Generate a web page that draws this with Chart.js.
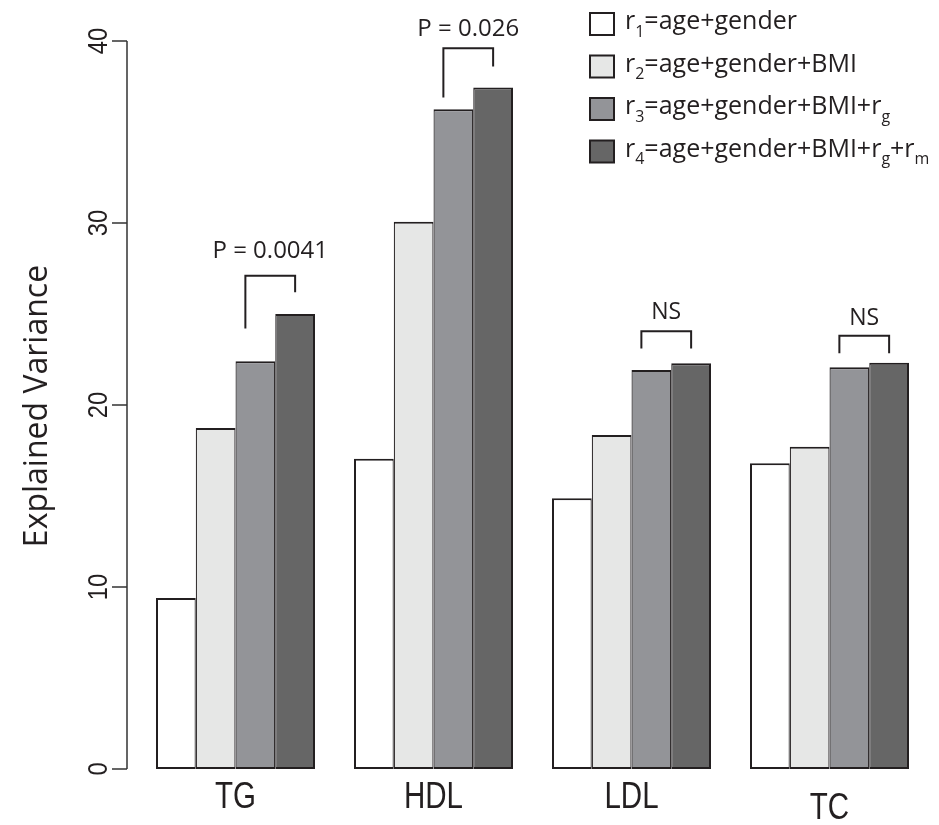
<!DOCTYPE html>
<html>
<head>
<meta charset="utf-8">
<script src="https://cdn.jsdelivr.net/npm/chart.js@4.4.0/dist/chart.umd.min.js"></script>
<style>
  html, body { margin: 0; padding: 0; background: #fff; }
  #wrap { width: 939px; height: 825px; }
</style>
</head>
<body>
<div id="wrap"><canvas id="chart" width="939" height="825"></canvas></div>
<script>
// ---- data ----
const categories = ["TG", "HDL", "LDL", "TC"];
const r1Values = [9.4, 17.05, 14.87, 16.8];
const r2Values = [18.74, 30.07, 18.35, 17.71];
const r3Values = [22.4, 36.25, 21.92, 22.07];
const r4Values = [25.0, 37.45, 22.29, 22.32];
const yTicks = [0, 10, 20, 30, 40];

// legend labels, split into [text, isSubscript] pieces
const seriesNames = [
  [["r", 0], ["1", 1], ["=age+gender", 0]],
  [["r", 0], ["2", 1], ["=age+gender+BMI", 0]],
  [["r", 0], ["3", 1], ["=age+gender+BMI+r", 0], ["g", 1]],
  [["r", 0], ["4", 1], ["=age+gender+BMI+r", 0], ["g", 1], ["+r", 0], ["m", 1]],
];
const seriesColors = ["#ffffff", "#e6e7e6", "#939498", "#666666"];

// significance brackets between r3 and r4 (values in axis units)
const pLabels = ["P = 0.0041", "P = 0.026", "NS", "NS"];
const pLabelY = [28.1, 40.3, 24.7, 24.4];
const bracketTop = [27.1, 39.6, 24.05, 23.8];
const bracketLeftEnd = [24.2, 36.9, 23.1, 22.85];
const bracketRightEnd = [26.2, 38.6, 23.1, 22.85];

const INK = "#231f20";

function drawRich(ctx, parts, x, y, size) {
  parts.forEach(([txt, sub]) => {
    ctx.font = (sub ? Math.round(size * 0.64) : size) + 'px "Open Sans"';
    ctx.fillText(txt, x, sub ? y + size * 0.3 : y);
    x += ctx.measureText(txt).width;
  });
}

const decorPlugin = {
  id: "decor",
  afterDatasetsDraw(chart) {
    const ctx = chart.ctx;
    const xs = chart.scales.x;
    const ys = chart.scales.y;
    const axisX = 127;

    ctx.save();
    ctx.strokeStyle = "#333";
    ctx.fillStyle = INK;
    ctx.lineWidth = 1.5;

    // y axis line + ticks
    ctx.beginPath();
    ctx.moveTo(axisX, ys.getPixelForValue(40));
    ctx.lineTo(axisX, ys.getPixelForValue(0));
    yTicks.forEach((t) => {
      const y = ys.getPixelForValue(t);
      ctx.moveTo(axisX - 15, y);
      ctx.lineTo(axisX, y);
    });
    ctx.stroke();

    // rotated tick labels
    yTicks.forEach((t) => {
      ctx.save();
      ctx.translate(107, ys.getPixelForValue(t));
      ctx.rotate(-Math.PI / 2);
      ctx.scale(0.88, 1);
      ctx.font = '27px "Liberation Sans"';
      ctx.textAlign = "center";
      ctx.textBaseline = "alphabetic";
      ctx.fillText(String(t), 0, 0);
      ctx.restore();
    });

    // y title
    ctx.save();
    ctx.translate(47, 406);
    ctx.rotate(-Math.PI / 2);
    ctx.font = '32px "Open Sans"';
    ctx.textAlign = "center";
    ctx.fillText("Explained Variance", 0, 0);
    ctx.restore();

    // category labels (condensed)
    categories.forEach((c, i) => {
      ctx.save();
      ctx.translate(xs.getPixelForValue(i), c === "TC" ? 819 : 808);
      ctx.scale(0.82, 1);
      ctx.font = '36px "Liberation Sans"';
      ctx.textAlign = "center";
      ctx.fillText(c, 0, 0);
      ctx.restore();
    });

    // brackets + p-values
    const m3 = chart.getDatasetMeta(2);
    const m4 = chart.getDatasetMeta(3);
    ctx.strokeStyle = INK;
    ctx.lineWidth = 2;
    categories.forEach((c, i) => {
      const xl = m3.data[i].x - 10;
      const xr = m4.data[i].x;
      const yt = ys.getPixelForValue(bracketTop[i]);
      ctx.beginPath();
      ctx.moveTo(xl, ys.getPixelForValue(bracketLeftEnd[i]));
      ctx.lineTo(xl, yt);
      ctx.lineTo(xr, yt);
      ctx.lineTo(xr, ys.getPixelForValue(bracketRightEnd[i]));
      ctx.stroke();
      ctx.font = (pLabels[i] === "NS" ? 23 : 24) + 'px "Open Sans"';
      ctx.textAlign = "center";
      ctx.fillText(pLabels[i], (xl + xr) / 2, ys.getPixelForValue(pLabelY[i]));
    });

    // legend
    ctx.textAlign = "left";
    seriesNames.forEach((parts, i) => {
      const cy = 24 + i * 42.5;
      ctx.fillStyle = seriesColors[i];
      ctx.fillRect(590, cy - 11, 24, 22);
      ctx.strokeStyle = INK;
      ctx.lineWidth = 2;
      ctx.strokeRect(590, cy - 11, 24, 22);
      ctx.fillStyle = INK;
      drawRich(ctx, parts, 625, cy + 5, 25);
    });

    ctx.restore();
  },
};

function barSet(label, data, color, idx) {
  return {
    label,
    data,
    backgroundColor: color,
    borderColor: INK,
    borderWidth: { top: 2, bottom: 2, left: idx === 0 ? 2 : 1.2, right: idx === 3 ? 2 : 1.2 },
    borderSkipped: false,
    barPercentage: 1,
    categoryPercentage: 159 / 198,
  };
}

new Chart(document.getElementById("chart").getContext("2d"), {
  type: "bar",
  data: {
    labels: categories,
    datasets: [
      barSet("r1", r1Values, seriesColors[0], 0),
      barSet("r2", r2Values, seriesColors[1], 1),
      barSet("r3", r3Values, seriesColors[2], 2),
      barSet("r4", r4Values, seriesColors[3], 3),
    ],
  },
  options: {
    responsive: false,
    animation: false,
    devicePixelRatio: 1,
    layout: { padding: { left: 136.5, right: 10.5, top: 41, bottom: 56 } },
    plugins: { legend: { display: false }, tooltip: { enabled: false } },
    scales: {
      x: { display: false },
      y: { display: false, min: 0, max: 40 },
    },
  },
  plugins: [decorPlugin],
});
</script>
</body>
</html>
